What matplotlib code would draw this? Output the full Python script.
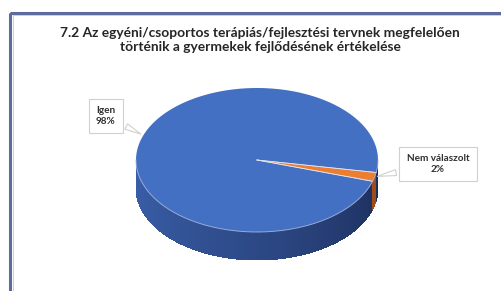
#!/usr/bin/env python3
import numpy as np
import matplotlib
matplotlib.use('Agg')
import matplotlib.pyplot as plt
from matplotlib.patches import Polygon, Rectangle

title = ('7.2 Az egyéni/csoportos terápiás/fejlesztési tervnek megfelelően\n'
         'történik a gyermekek fejlődésének értékelése')
labels = ['Igen', 'Nem válaszolt']
values = [98, 2]

top_colors = ['#4370c2', '#ed7d31']
side_dark = ['#1b2c58', '#9a4a18']
side_light = ['#3a5fa9', '#d06a28']

plt.rcParams['font.family'] = ['Lato', 'DejaVu Sans']

fig = plt.figure(figsize=(5.01, 2.91), dpi=100)
ax = fig.add_axes([0, 0, 1, 1])
ax.set_xlim(0, 501)
ax.set_ylim(291, 0)
ax.axis('off')

# chart frame (cropped screenshot, only left/top edges visible)
ax.add_patch(Rectangle((10.5, 12.5), 700, 500, fill=False, ec='#5d6c9c', lw=2.2))
ax.add_patch(Rectangle((12.8, 14.8), 700, 500, fill=False, ec='#c9cfe2', lw=0.7))

ax.text(260, 40, title, ha='center', va='center', fontsize=9.9,
        fontweight='bold', color='#262626', linespacing=1.15)

# pseudo 3d pie geometry
cx, cy, a, b, depth = 257, 160, 121, 72, 28
start = -17.2  # degrees, slices run clockwise


def pt(theta, dz=0):
    t = np.radians(theta)
    return cx + a * np.cos(t), cy - b * np.sin(t) + dz


total = float(sum(values))
bounds = []
ang = start
for v in values:
    end = ang - 360 * v / total
    bounds.append((end, ang))
    ang = end


def slice_of(theta):
    for i, (lo, hi) in enumerate(bounds):
        th = theta
        while th > hi:
            th -= 360
        while th < lo:
            th += 360
        if lo <= th <= hi:
            return i
    return 0


# side wall, front half only, drawn in thin strips for shading
steps = np.linspace(180, 360, 361)
for t0, t1 in zip(steps[:-1], steps[1:]):
    i = slice_of((t0 + t1) / 2)
    f = (0.5 * (t0 + t1) - 180) / 180.0
    c0 = np.array(matplotlib.colors.to_rgb(side_light[i]))
    c1 = np.array(matplotlib.colors.to_rgb(side_dark[i]))
    col = c0 + (c1 - c0) * f ** 1.2
    quad = [pt(t0 - 0.3), pt(t1 + 0.3), pt(t1 + 0.3, depth), pt(t0 - 0.3, depth)]
    ax.add_patch(Polygon(quad, closed=True, fc=col, ec='none', antialiased=False))

# top face
for i, (lo, hi) in enumerate(bounds):
    th = np.linspace(hi, lo, 200)
    xs, ys = pt(th)
    poly = [(cx, cy)] + list(zip(xs, ys))
    ax.add_patch(Polygon(poly, closed=True, fc=top_colors[i], ec='none'))
    for edge in (lo, hi):
        ex, ey = pt(edge)
        ax.plot([cx, ex], [cy, ey], color='#dfe6f3', lw=0.6, alpha=0.8)

# light rim between top face and side
rim = np.linspace(180, 360, 200)
rx, ry = pt(rim)
ax.plot(rx, ry, color='#9fb4dc', lw=0.7, alpha=0.9)

# callouts
box = dict(boxstyle='square,pad=0.75', fc='white', ec='#d0d0d0', lw=0.8)
label_pos = [(106, 116), (438, 164)]
label_ha = ['left', 'center']
tip_ang = [160, None]
for i, lab in enumerate(labels):
    pct = '{:.0f}%'.format(100 * values[i] / total)
    lo, hi = bounds[i]
    t = tip_ang[i] if tip_ang[i] is not None else (lo + hi) / 2
    tx, ty = pt(t)
    ax.annotate(lab + '\n' + pct, xy=(tx, ty), xytext=label_pos[i],
                ha='center', va='center', multialignment=label_ha[i],
                fontsize=7.2, fontweight='bold', color='#303030',
                bbox=box, linespacing=1.25,
                arrowprops=dict(arrowstyle='wedge,tail_width=0.6,shrink_factor=0.5',
                                fc='white', ec='#d0d0d0', lw=0.8))

fig.savefig('out.png', dpi=100)
